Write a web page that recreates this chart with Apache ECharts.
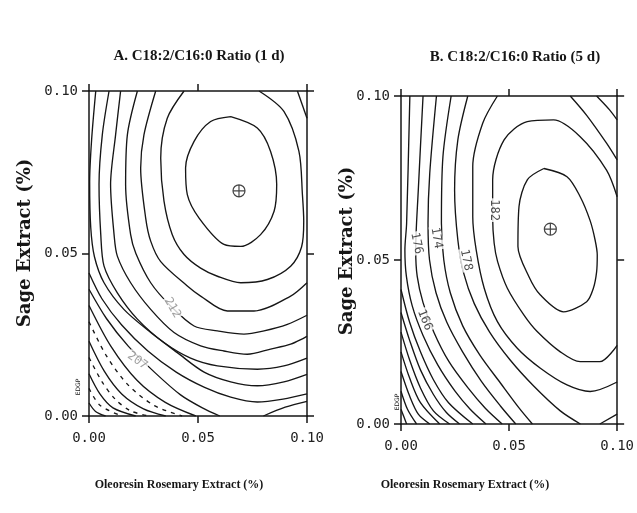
<!DOCTYPE html>
<html>
<head>
<meta charset="utf-8">
<script src="https://cdn.jsdelivr.net/npm/echarts/dist/echarts.min.js"></script>
<style>html,body{margin:0;padding:0;background:#fff;}#c{width:637px;height:513px;}</style>
</head>
<body>
<div id="c"></div>
<script>
// ---------- DATA (data units in %) ----------
const axisTicks = [0.00, 0.05, 0.10];
const titleA = 'A. C18:2/C16:0 Ratio (1 d)';
const titleB = 'B. C18:2/C16:0 Ratio (5 d)';
const xName = 'Oleoresin Rosemary Extract (%)';
const yName = 'Sage Extract (%)';

// Panel A contour lines (x = rosemary, y = sage)
const A1 = [[0.065,0.0921],[0.0772,0.0886],[0.0833,0.0814],[0.0861,0.0712],[0.0849,0.063],[0.0787,0.0558],[0.0696,0.0522],[0.0619,0.0528],[0.0505,0.0609],[0.0451,0.0681],[0.0443,0.0763],[0.0482,0.0845],[0.0558,0.0906],[0.065,0.0921]];
const A2 = [[0.0436,0.1],[0.0359,0.0916],[0.0329,0.0793],[0.0344,0.0661],[0.0382,0.0558],[0.0436,0.0497],[0.0512,0.0455],[0.0589,0.043],[0.0696,0.041],[0.0818,0.042],[0.0925,0.0461],[0.0975,0.052],[0.0985,0.060],[0.0979,0.0681],[0.0963,0.0814],[0.0894,0.0937],[0.078,0.1]];
const A3 = [[0.0306,0.1],[0.0252,0.0865],[0.0237,0.0763],[0.026,0.0609],[0.0283,0.0538],[0.0329,0.0475],[0.0451,0.040],[0.0512,0.0369],[0.0635,0.0323],[0.0757,0.0323],[0.0925,0.0369],[0.1,0.041]];
const A3b = [[0.0956,0.1],[0.1,0.0916]];
const A4 = [[0.0222,0.1],[0.0176,0.0865],[0.0168,0.0711],[0.0191,0.0558],[0.0215,0.0500],[0.0283,0.041],[0.0375,0.0338],[0.0482,0.0277],[0.0589,0.0262],[0.0711,0.0252],[0.0803,0.0262],[0.091,0.0282],[0.1,0.031]];
const A5 = [[0.0145,0.1],[0.0122,0.0865],[0.0099,0.0712],[0.0115,0.0558],[0.013,0.0492],[0.0191,0.041],[0.0283,0.0328],[0.039,0.0257],[0.0512,0.0216],[0.0619,0.02],[0.0726,0.019],[0.0833,0.0206],[0.0925,0.0221],[0.1,0.0245]];
const A6 = [[0.0092,0.1],[0.0061,0.0865],[0.0046,0.0712],[0.0054,0.0558],[0.0069,0.0461],[0.013,0.0379],[0.0222,0.0298],[0.0344,0.0226],[0.0466,0.0178],[0.0589,0.0154],[0.0772,0.0144],[0.0894,0.0154],[0.1,0.0178]];
const A7 = [[0.0031,0.1],[0.0012,0.085],[0.0003,0.072],[0.0008,0.058],[0.0025,0.049],[0.0069,0.041],[0.016,0.0328],[0.0283,0.0257],[0.0405,0.0195],[0.0528,0.0135],[0.065,0.0105],[0.0772,0.0093],[0.0894,0.0105],[0.1,0.0128]];
const A8 = [[0,0.044],[0.006,0.036],[0.015,0.028],[0.027,0.020],[0.04,0.0135],[0.053,0.0088],[0.065,0.0058],[0.0772,0.0043],[0.089,0.0052],[0.1,0.0068]];
const A9 = [[0,0.039],[0.008,0.030],[0.018,0.0215],[0.03,0.0135],[0.042,0.0065],[0.052,0.0025],[0.06,0]];
const A9b = [[0.08,0],[0.09,0.0027],[0.1,0.0045]];
const A10 = [[0,0.034],[0.010,0.0215],[0.022,0.011],[0.035,0.0042],[0.049,0]];
const A11 = [[0,0.029],[0.008,0.0185],[0.018,0.0095],[0.03,0.0032],[0.0427,0]];
const A12 = [[0,0.023],[0.007,0.0138],[0.015,0.0068],[0.025,0.0022],[0.0352,0]];
const A13 = [[0,0.018],[0.006,0.0105],[0.012,0.0052],[0.019,0.0016],[0.0275,0]];
const A14 = [[0,0.013],[0.005,0.0068],[0.011,0.0025],[0.0214,0]];
const A15 = [[0,0.0085],[0.005,0.0033],[0.0151,0]];
const A16 = [[0,0.004],[0.003,0.0014],[0.0076,0]];

// Panel B contour lines
const B1 = [[0.0661,0.0779],[0.0768,0.0754],[0.0829,0.0693],[0.0875,0.062],[0.0898,0.0561],[0.0908,0.0515],[0.0905,0.0464],[0.089,0.0414],[0.0859,0.0373],[0.0752,0.0342],[0.0645,0.0393],[0.0592,0.0449],[0.0541,0.0541],[0.0546,0.0663],[0.0585,0.0745],[0.0661,0.0779]];
const B2 = [[0.1,0.0693],[0.0951,0.0774],[0.0829,0.0876],[0.0706,0.0927],[0.0584,0.0922],[0.0477,0.0866],[0.0424,0.0744],[0.0424,0.063],[0.0431,0.0551],[0.0447,0.0495],[0.0492,0.0414],[0.0569,0.0332],[0.063,0.0282],[0.0737,0.022],[0.0829,0.019],[0.092,0.019],[0.1,0.024]];
const B3 = [[0.0446,0.1],[0.0378,0.0917],[0.0332,0.0785],[0.0332,0.0632],[0.0348,0.053],[0.0385,0.0414],[0.0446,0.0312],[0.0538,0.0231],[0.0645,0.017],[0.0768,0.0119],[0.0875,0.0099],[0.1,0.0128]];
const B3b = [[0.0783,0.1],[0.0859,0.0941],[0.0951,0.0856],[0.1,0.0805]];
const B4 = [[0.0309,0.1],[0.0263,0.0866],[0.0248,0.0713],[0.0263,0.0561],[0.029,0.046],[0.0339,0.0367],[0.041,0.028],[0.0505,0.0195],[0.0615,0.0115],[0.0737,0.004],[0.083,0]];
const B4b = [[0.092,0],[0.1,0.003]];
const B4c = [[0.0905,0.1],[0.0966,0.0957],[0.1,0.0927]];
const B5 = [[0.0232,0.1],[0.0194,0.0815],[0.0187,0.0612],[0.0198,0.050],[0.0228,0.040],[0.0285,0.030],[0.0365,0.021],[0.046,0.0125],[0.0545,0.005],[0.0608,0]];
const B6 = [[0.0164,0.1],[0.0133,0.0764],[0.0125,0.0612],[0.0132,0.050],[0.0162,0.040],[0.0212,0.031],[0.0285,0.022],[0.0372,0.013],[0.046,0.0055],[0.0531,0]];
const B7 = [[0.0102,0.1],[0.008,0.0713],[0.0068,0.053],[0.0075,0.045],[0.0102,0.037],[0.0152,0.028],[0.0222,0.019],[0.031,0.011],[0.039,0.0048],[0.0468,0]];
const B8 = [[0.0041,0.1],[0.0026,0.0612],[0.0018,0.053],[0.0025,0.045],[0.0052,0.036],[0.0102,0.027],[0.017,0.018],[0.025,0.010],[0.032,0.0045],[0.0393,0]];
const B9 = [[0,0.041],[0.004,0.031],[0.009,0.022],[0.015,0.0135],[0.022,0.0065],[0.0332,0]];
const B10 = [[0,0.034],[0.004,0.0255],[0.009,0.0165],[0.015,0.009],[0.021,0.0035],[0.0271,0]];
const B11 = [[0,0.028],[0.004,0.0195],[0.009,0.011],[0.015,0.004],[0.0225,0]];
const B12 = [[0,0.022],[0.004,0.014],[0.009,0.0065],[0.0179,0]];
const B13 = [[0,0.016],[0.004,0.0085],[0.008,0.003],[0.0133,0]];
const B14 = [[0,0.010],[0.003,0.0045],[0.0072,0]];
const B15 = [[0,0.0045],[0.0026,0]];

// Optimum points (⊕)
const optimumA = [[0.0688,0.0693]];
const optimumB = [[0.0691,0.0594]];

// Contour value labels and where they sit
const labelTextA = ['212','207'];
const labelAtA = [[0.0382,0.0333],[0.0222,0.0170]];
const labelTextB = ['182','178','174','176','166'];
const labelAtB = [[0.0431,0.0652],[0.0301,0.0500],[0.0164,0.0567],[0.0072,0.0551],[0.0110,0.0317]];

// ---------- CHART ----------
const contoursA = [A1,A2,A3,A3b,A4,A5,A6,A7,A8,A9,A9b,A10,A11,A12,A13,A14,A15,A16];
const dashedA = [A11, A13, A15];
const contoursB = [B1,B2,B3,B3b,B4,B4b,B4c,B5,B6,B7,B8,B9,B10,B11,B12,B13,B14,B15];
const labelRotA = [-60,-35];
const labelRotB = [-90,-78,-80,-78,-68];

const INK = '#161616';
const monoFont = 'DejaVu Sans Mono';

function lineSeries(d, gi, dashed){
  return {type:'line', xAxisIndex:gi*2, yAxisIndex:gi*2, data:d, smooth:0.3,
    showSymbol:false, symbol:'none', silent:true, animation:false, z:2,
    lineStyle:{color:INK, width:1.35, type: dashed ? [4,5] : 'solid'}};
}
function xAx(gi, pos){
  return {gridIndex:gi, type:'value', min:0, max:0.1, interval:0.05, position:pos,
    axisLine:{show:true, onZero:false, lineStyle:{color:INK, width:1.5}},
    axisTick:{show:true, inside:false, length:7, lineStyle:{color:INK, width:1.5}},
    axisLabel:{show:pos==='bottom', margin:15, showMinLabel:true, showMaxLabel:true,
      formatter:v=>axisTicks.reduce((a,t)=>Math.abs(t-v)<1e-9?t.toFixed(2):a, v.toFixed(2)),
      fontFamily:monoFont, fontSize:14, color:'#222'},
    splitLine:{show:false}};
}
function yAx(gi, pos){
  return {gridIndex:gi, type:'value', min:0, max:0.1, interval:0.05, position:pos,
    axisLine:{show:true, onZero:false, lineStyle:{color:INK, width:1.5}},
    axisTick:{show:true, inside:false, length:7, lineStyle:{color:INK, width:1.5}},
    axisLabel:{show:pos==='left', margin:11, showMinLabel:true, showMaxLabel:true,
      formatter:v=>v.toFixed(2), fontFamily:monoFont, fontSize:14, color:'#222'},
    splitLine:{show:false}};
}
const optPath = 'path://M0,6 A6,6 0 1 1 12,6 A6,6 0 1 1 0,6 Z M0,6 L12,6 M6,0 L6,12';
function optSeries(d, gi){
  return {type:'scatter', xAxisIndex:gi*2, yAxisIndex:gi*2, data:d, symbol:optPath,
    symbolSize:12, silent:true, animation:false, z:4,
    itemStyle:{color:'rgba(0,0,0,0)', borderColor:INK, borderWidth:1.2}};
}
function labelSeries(texts, pos, rots, gi, color){
  return {type:'scatter', xAxisIndex:gi*2, yAxisIndex:gi*2, symbolSize:0, silent:true, animation:false, z:5,
    data: texts.map((t,i)=>({name:t, value:pos[i], label:{rotate:rots[i]}})),
    label:{show:true, position:'inside', formatter:'{b}', fontFamily:monoFont, fontSize:12,
      color:color, backgroundColor:'#fff', padding:[0,1]}};
}

const series = [];
contoursA.forEach(d=>series.push(lineSeries(d,0,dashedA.includes(d))));
contoursB.forEach(d=>series.push(lineSeries(d,1,false)));
series.push(optSeries(optimumA,0), optSeries(optimumB,1));
series.push(labelSeries(labelTextA,labelAtA,labelRotA,0,'#8a8a8a'));
series.push(labelSeries(labelTextB,labelAtB,labelRotB,1,'#222'));

function txt(text, x, y, font, rot){
  return {type:'text', x:x, y:y, rotation:rot||0, silent:true,
    style:{text:text, font:font, fill:INK, align:'center', verticalAlign:'middle',
      textAlign:'center', textVerticalAlign:'middle'}};
}
const titleFont = 'bold 15px "Liberation Serif"';
const yNameFont = 'bold 18px "DejaVu Serif"';
const xNameFont = 'bold 12px "Liberation Serif"';

const option = {
  backgroundColor:'#fff',
  animation:false,
  grid:[{left:89, top:91, width:218, height:325},{left:401, top:96, width:218, height:328}],
  xAxis:[xAx(0,'bottom'), xAx(0,'top'), xAx(1,'bottom'), xAx(1,'top')],
  yAxis:[yAx(0,'left'), yAx(0,'right'), yAx(1,'left'), yAx(1,'right')],
  series: series,
  graphic:[
    txt(titleA, 199, 56, titleFont),
    txt(titleB, 515, 57, titleFont),
    txt(yName, 25, 243, yNameFont, Math.PI/2),
    txt(yName, 347, 251, yNameFont, Math.PI/2),
    txt(xName, 179, 485, xNameFont),
    txt(xName, 465, 485, xNameFont),
    txt('EDGP', 78, 387, '6px "DejaVu Sans"', Math.PI/2),
    txt('EDGP', 397, 402, '6px "DejaVu Sans"', Math.PI/2)
  ]
};
const chart = echarts.init(document.getElementById('c'), null, {renderer:'canvas'});
chart.setOption(option);
</script>
</body>
</html>
